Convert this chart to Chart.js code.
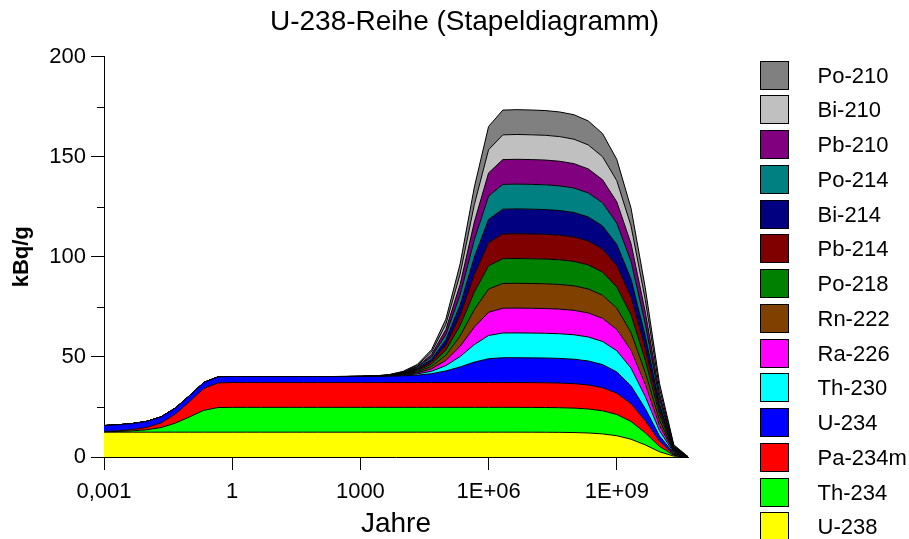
<!DOCTYPE html>
<html>
<head>
<meta charset="utf-8">
<script src="https://cdn.jsdelivr.net/npm/chart.js@4/dist/chart.umd.min.js"></script>
<style>
  html, body { margin: 0; padding: 0; background: #fff; }
  canvas { display: block; }
</style>
</head>
<body>
<canvas id="c" width="909" height="539"></canvas>
<script>
// ---- data (years, kBq/g) ----
const years = [0.001, 0.002154, 0.004642, 0.01, 0.02154, 0.04642, 0.1, 0.2154, 0.4642, 1,
  2.154, 4.642, 10, 21.54, 46.42, 100, 215.4, 464.2, 1000, 2154,
  4642, 1e4, 21544, 46416, 1e5, 215443, 464159, 1e6, 2.154e6, 4.642e6,
  1e7, 2.154e7, 4.642e7, 1e8, 2.154e8, 4.642e8, 1e9, 2.154e9, 4.642e9, 1e10,
  2.154e10, 4.642e10];

const U238 = [12.4,12.4,12.4,12.4,12.4,12.4,12.4,12.4,12.4,12.4,
  12.4,12.4,12.4,12.4,12.4,12.4,12.4,12.4,12.4,12.4,
  12.4,12.4,12.4,12.4,12.4,12.4,12.4,12.4,12.4,12.4,
  12.38,12.36,12.31,12.21,11.99,11.54,10.62,8.88,6.04,2.63,0.44,0.01];
const Th234 = [0.15,0.35,0.65,1.2,2.3,4.5,7.6,10.9,12.3,12.4,
  12.4,12.4,12.4,12.4,12.4,12.4,12.4,12.4,12.4,12.4,
  12.4,12.4,12.4,12.4,12.4,12.4,12.4,12.4,12.4,12.4,
  12.38,12.36,12.31,12.21,11.99,11.54,10.62,8.88,6.04,2.63,0.44,0.01];
const Pa234m = [0.15,0.35,0.65,1.2,2.3,4.5,7.6,10.9,12.3,12.4,
  12.4,12.4,12.4,12.4,12.4,12.4,12.4,12.4,12.4,12.4,
  12.4,12.4,12.4,12.4,12.4,12.4,12.4,12.4,12.4,12.4,
  12.38,12.36,12.31,12.21,11.99,11.54,10.62,8.88,6.04,2.63,0.44,0.01];
const U234 = [3.0,3.0,3.0,3.0,3.0,3.0,3.0,3.0,3.0,3.0,
  3.0,3.0,3.0,3.0,3.0,3.0,3.0,3.01,3.03,3.06,
  3.12,3.4,3.7,4.4,5.8,7.8,10.2,11.9,12.38,12.39,
  12.38,12.36,12.31,12.21,11.99,11.54,10.62,8.88,6.04,2.63,0.44,0.01];
const Th230 = [0,0,0,0,0,0,0,0,0,0,
  0,0,0,0,0,0,0.006,0.013,0.028,0.06,
  0.13,0.28,0.59,1.26,2.64,5.18,8.76,11.6,12.37,12.39,
  12.38,12.36,12.31,12.21,11.99,11.54,10.62,8.88,6.04,2.63,0.44,0.01];
const Ra226 = [0,0,0,0,0,0,0,0,0,0,
  0,0,0,0,0,0,0,0,0.005,0.021,
  0.075,0.21,0.53,1.2,2.58,5.14,8.74,11.6,12.37,12.39,
  12.38,12.36,12.31,12.21,11.99,11.54,10.62,8.88,6.04,2.63,0.44,0.01];
const Rn222 = [0,0,0,0,0,0,0,0,0,0,
  0,0,0,0,0,0,0,0,0.005,0.021,
  0.075,0.21,0.53,1.2,2.58,5.14,8.74,11.6,12.37,12.39,
  12.38,12.36,12.31,12.21,11.99,11.54,10.62,8.88,6.04,2.63,0.44,0.01];
const Po218 = [0,0,0,0,0,0,0,0,0,0,
  0,0,0,0,0,0,0,0,0.005,0.021,
  0.075,0.21,0.53,1.2,2.58,5.14,8.74,11.6,12.37,12.39,
  12.38,12.36,12.31,12.21,11.99,11.54,10.62,8.88,6.04,2.63,0.44,0.01];
const Pb214 = [0,0,0,0,0,0,0,0,0,0,
  0,0,0,0,0,0,0,0,0.005,0.021,
  0.075,0.21,0.53,1.2,2.58,5.14,8.74,11.6,12.37,12.39,
  12.38,12.36,12.31,12.21,11.99,11.54,10.62,8.88,6.04,2.63,0.44,0.01];
const Bi214 = [0,0,0,0,0,0,0,0,0,0,
  0,0,0,0,0,0,0,0,0.005,0.021,
  0.075,0.21,0.53,1.2,2.58,5.14,8.74,11.6,12.37,12.39,
  12.38,12.36,12.31,12.21,11.99,11.54,10.62,8.88,6.04,2.63,0.44,0.01];
const Po214 = [0,0,0,0,0,0,0,0,0,0,
  0,0,0,0,0,0,0,0,0.005,0.021,
  0.075,0.21,0.53,1.2,2.58,5.14,8.74,11.6,12.37,12.39,
  12.38,12.36,12.31,12.21,11.99,11.54,10.62,8.88,6.04,2.63,0.44,0.01];
const Pb210 = [0,0,0,0,0,0,0,0,0,0,
  0,0,0,0,0,0,0,0,0.004,0.02,
  0.075,0.21,0.53,1.2,2.58,5.14,8.74,11.6,12.37,12.39,
  12.38,12.36,12.31,12.21,11.99,11.54,10.62,8.88,6.04,2.63,0.44,0.01];
const Bi210 = [0,0,0,0,0,0,0,0,0,0,
  0,0,0,0,0,0,0,0,0.004,0.02,
  0.075,0.21,0.53,1.2,2.58,5.14,8.74,11.6,12.37,12.39,
  12.38,12.36,12.31,12.21,11.99,11.54,10.62,8.88,6.04,2.63,0.44,0.01];
const Po210 = [0,0,0,0,0,0,0,0,0,0,
  0,0,0,0,0,0,0,0,0.004,0.02,
  0.075,0.21,0.53,1.2,2.58,5.14,8.74,11.6,12.37,12.39,
  12.38,12.36,12.31,12.21,11.99,11.54,10.62,8.88,6.04,2.63,0.44,0.01];

const seriesNames = ['U-238','Th-234','Pa-234m','U-234','Th-230','Ra-226','Rn-222',
  'Po-218','Pb-214','Bi-214','Po-214','Pb-210','Bi-210','Po-210'];
const seriesValues = [U238, Th234, Pa234m, U234, Th230, Ra226, Rn222,
  Po218, Pb214, Bi214, Po214, Pb210, Bi210, Po210];
const seriesColors = ['#FFFF00','#00FF00','#FF0000','#0000FF','#00FFFF','#FF00FF','#804000',
  '#008000','#800000','#000080','#008080','#800080','#C0C0C0','#808080'];

const xTickValues = [0.001, 1, 1000, 1e6, 1e9];
const xTickLabels = ['0,001', '1', '1000', '1E+06', '1E+09'];
const yMin = 0, yMax = 200, yMajorStep = 50, yMinorStep = 25;

// ---- chart ----
const FONT = "'Liberation Sans', Arial, sans-serif";
Chart.defaults.font.family = FONT;
Chart.defaults.color = '#000';

const minorTicks = {
  id: 'minorTicks',
  afterDraw(chart) {
    const ys = chart.scales.y, ctx = chart.ctx, x0 = chart.chartArea.left;
    ctx.save();
    ctx.strokeStyle = '#000';
    ctx.lineWidth = 1;
    for (let v = yMin + yMinorStep; v < yMax; v += yMajorStep) {
      const py = Math.round(ys.getPixelForValue(v)) + 0.5;
      ctx.beginPath();
      ctx.moveTo(x0 - 7, py);
      ctx.lineTo(x0, py);
      ctx.stroke();
    }
    ctx.restore();
  }
};

const sideLegend = {
  id: 'sideLegend',
  afterDraw(chart) {
    const ctx = chart.ctx;
    const ds = chart.data.datasets;
    const bx = chart.chartArea.right + 72.5;
    ctx.save();
    ctx.font = "22px " + FONT;
    ctx.textBaseline = 'middle';
    ctx.textAlign = 'left';
    for (let k = 0; k < ds.length; k++) {
      const d = ds[ds.length - 1 - k];
      const top = Math.round(60.7 + k * 34.75) + 0.5;
      ctx.fillStyle = d.backgroundColor;
      ctx.fillRect(bx, top, 28, 28);
      ctx.strokeStyle = '#000';
      ctx.lineWidth = 1;
      ctx.strokeRect(bx, top, 28, 28);
      ctx.fillStyle = '#000';
      ctx.fillText(d.label, bx + 57, top + 15);
    }
    ctx.restore();
  }
};

new Chart(document.getElementById('c'), {
  type: 'line',
  data: {
    datasets: seriesNames.map((name, i) => ({
      label: name,
      data: years.map((t, j) => ({ x: t, y: seriesValues[i][j] })),
      backgroundColor: seriesColors[i],
      borderColor: '#000',
      borderWidth: 1,
      fill: i === 0 ? 'origin' : '-1',
      pointRadius: 0,
      tension: 0,
      xAxisID: 'x',
      yAxisID: 'y'
    }))
  },
  options: {
    responsive: false,
    animation: false,
    devicePixelRatio: 1,
    layout: { padding: { left: 20, right: 0, top: 0, bottom: 0 } },
    plugins: {
      legend: { display: false },
      tooltip: { enabled: false },
      title: {
        display: true,
        text: 'U-238-Reihe (Stapeldiagramm)',
        color: '#000',
        font: { family: FONT, size: 28, weight: 'normal' },
        padding: { top: 5, bottom: 18 }
      }
    },
    scales: {
      x: {
        type: 'logarithmic',
        min: 0.001,
        max: 4.642e10,
        afterBuildTicks: s => { s.ticks = xTickValues.map(v => ({ value: v })); },
        afterFit: s => { s.height = 82; },
        ticks: {
          autoSkip: false, maxRotation: 0, minRotation: 0, padding: 9,
          color: '#000', font: { size: 22 },
          callback: (v, i) => xTickLabels[i]
        },
        grid: { drawOnChartArea: false, drawTicks: true, tickLength: 13, color: '#000', tickColor: '#000' },
        border: { display: true, color: '#000', width: 1 },
        title: { display: true, text: 'Jahre', color: '#000', font: { size: 28 }, padding: { top: 0, bottom: -2 } }
      },
      y: {
        stacked: true,
        min: yMin,
        max: yMax,
        afterFit: s => { s.width = 84; },
        ticks: { stepSize: yMajorStep, padding: 5, color: '#000', font: { size: 22 } },
        grid: { drawOnChartArea: false, drawTicks: true, tickLength: 13, color: '#000', tickColor: '#000' },
        border: { display: true, color: '#000', width: 1 },
        title: { display: true, text: 'kBq/g', color: '#000', font: { size: 22, weight: 'bold' }, padding: { top: -11, bottom: 0 } }
      },
      legendSpace: {
        type: 'linear',
        position: 'right',
        display: true,
        afterFit: s => { s.width = 221; },
        grid: { display: false },
        border: { display: false },
        ticks: { display: false }
      }
    }
  },
  plugins: [minorTicks, sideLegend]
});
</script>
</body>
</html>
